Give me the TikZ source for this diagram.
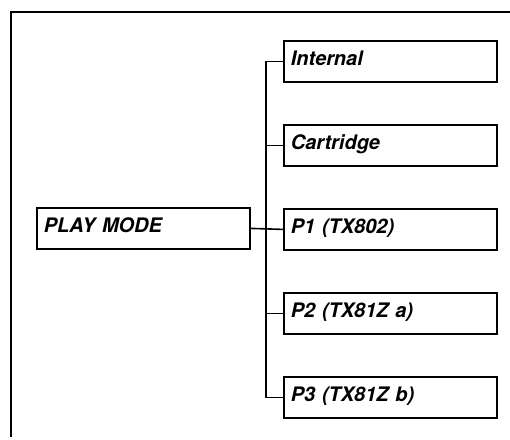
\documentclass[tikz,border=0pt]{standalone}
\usepackage{fontspec}
\setmainfont{TeX Gyre Heros}
\begin{document}
\begin{tikzpicture}[x=1pt,y=-1pt,
  modebox/.style={draw, line width=1.8pt, anchor=north west, minimum width=213pt,
    minimum height=41pt, text width=199pt, inner xsep=7pt, inner ysep=0pt, align=left,
    text height=14pt, text depth=5pt,
    font=\fontsize{20}{24}\selectfont\bfseries\itshape},
  bus/.style={line width=1.6pt},
  frame/.style={line width=1.5pt}]
\useasboundingbox (0,0) rectangle (510,439);
\draw[frame] (11,437) -- (11,12) -- (510,12);
\node[modebox] (play) at (36,207) {PLAY MODE};
\node[modebox] (int) at (283,40) {Internal};
\node[modebox] (cart) at (283,124) {Cartridge};
\node[modebox] (p1) at (283,208) {P1 (TX802)};
\node[modebox] (p2) at (283,292) {P2 (TX81Z a)};
\node[modebox] (p3) at (283,376) {P3 (TX81Z b)};
\draw[bus] (int.west) -- ++(-17,0) |- (p3.west);
\draw[bus] (cart.west) -- ++(-17,0);
\draw[bus] (p2.west) -- ++(-17,0);
\draw[bus] (play.east) -- (p1.west);
\end{tikzpicture}
\end{document}
